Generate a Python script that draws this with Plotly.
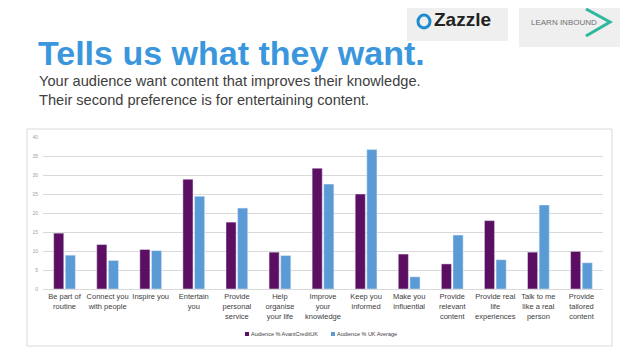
import plotly.graph_objects as go

categories = ["Be part of<br>routine", "Connect you<br>with people", "Inspire you", "Entertain<br>you",
              "Provide<br>personal<br>service", "Help<br>organise<br>your life", "Improve<br>your<br>knowledge",
              "Keep you<br>informed", "Make you<br>influential", "Provide<br>relevant<br>content",
              "Provide real<br>life<br>experiences", "Talk to me<br>like a real<br>person", "Provide<br>tailored<br>content"]
avant = [14.7, 11.7, 10.4, 28.9, 17.6, 9.7, 31.8, 25.0, 9.2, 6.6, 18.0, 9.7, 9.9]
uk_avg = [8.9, 7.5, 10.1, 24.4, 21.3, 8.8, 27.6, 36.7, 3.2, 14.2, 7.7, 22.1, 6.9]
series_names = ["Audience % AvantCreditUK", "Audience % UK Average"]
series_colors = ["#5C0F62", "#5B9BD5"]
y_ticks = [0, 5, 10, 15, 20, 25, 30, 35, 40]

# page body has an 8px margin: figure is placed at (8, 8)
OFF = 8
W, H = 638 - OFF, 359 - OFF
def px(x): return (x - OFF) / W
def py(y): return (H - (y - OFF)) / H

fig = go.Figure()
fig.add_trace(go.Bar(x=categories, y=avant, name=series_names[0], marker_color=series_colors[0]))
fig.add_trace(go.Bar(x=categories, y=uk_avg, name=series_names[1], marker_color=series_colors[1]))

fig.update_layout(
    width=W, height=H, margin=dict(l=0, r=0, t=0, b=0, autoexpand=False),
    paper_bgcolor="white", plot_bgcolor="white",
    barmode="group", bargap=0.46, bargroupgap=0.13,
    font=dict(family="Liberation Sans, Arial", color="#404040"),
    xaxis=dict(domain=[px(43), px(603)], tickfont=dict(size=7.5, color="#404040"), automargin=False,
               showline=True, linecolor="#D9D9D9", linewidth=1, ticks="", showgrid=False),
    yaxis=dict(domain=[py(289), py(137)], range=[0, 40], tickvals=y_ticks, automargin=False,
               tickfont=dict(size=5, color="#A0A0A0"), gridcolor="#D9D9D9", gridwidth=1,
               zeroline=False, showline=False, ticks="", ticklabelstandoff=4),
    showlegend=False,
)

shapes = [
    dict(type="rect", xref="paper", yref="paper", x0=px(27), x1=px(612), y0=py(346), y1=py(129),
         line=dict(color="#D9D9D9", width=1), fillcolor="rgba(0,0,0,0)", layer="below"),
    dict(type="rect", xref="paper", yref="paper", x0=px(407), x1=px(508), y0=py(41), y1=py(8),
         line=dict(width=0), fillcolor="#EFEFEF", layer="below"),
    dict(type="rect", xref="paper", yref="paper", x0=px(519), x1=px(620), y0=py(47), y1=py(8),
         line=dict(width=0), fillcolor="#EFEFEF", layer="below"),
    dict(type="circle", xref="paper", yref="paper", x0=px(418), x1=px(430), y0=py(28), y1=py(15),
         line=dict(color="#1E8BD0", width=3), fillcolor="rgba(0,0,0,0)"),
    dict(type="path", xref="paper", yref="paper",
         path=f"M {px(586)},{py(9)} L {px(610)},{py(22)} L {px(586)},{py(36)}",
         line=dict(color="#2DB8A0", width=3)),
    # legend swatches
    dict(type="rect", xref="paper", yref="paper", x0=px(245), x1=px(249), y0=py(336), y1=py(332),
         line=dict(width=0), fillcolor=series_colors[0]),
    dict(type="rect", xref="paper", yref="paper", x0=px(331), x1=px(335), y0=py(336), y1=py(332),
         line=dict(width=0), fillcolor=series_colors[1]),
]

annotations = [
    dict(text="<b>Tells us what they want.</b>", x=px(36), y=py(53), xref="paper", yref="paper",
         xanchor="left", yanchor="middle", showarrow=False,
         font=dict(family="Liberation Sans", size=34, color="#3A96DD")),
    dict(text="Your audience want content that improves their knowledge.", x=px(37), y=py(81),
         xref="paper", yref="paper", xanchor="left", yanchor="middle", showarrow=False,
         font=dict(family="Liberation Sans", size=14.6, color="#404040")),
    dict(text="Their second preference is for entertaining content.", x=px(37), y=py(100),
         xref="paper", yref="paper", xanchor="left", yanchor="middle", showarrow=False,
         font=dict(family="Liberation Sans", size=14.6, color="#404040")),
    dict(text="<b>Zazzle</b>", x=px(432), y=py(19), xref="paper", yref="paper",
         xanchor="left", yanchor="middle", showarrow=False,
         font=dict(family="Liberation Sans", size=19, color="#222222")),
    dict(text="LEARN INBOUND", x=px(529), y=py(23), xref="paper", yref="paper",
         xanchor="left", yanchor="middle", showarrow=False,
         font=dict(family="Liberation Sans", size=8, color="#707070")),
    dict(text=series_names[0], x=px(249), y=py(334), xref="paper", yref="paper",
         xanchor="left", yanchor="middle", showarrow=False,
         font=dict(family="Liberation Sans", size=5.5, color="#404040")),
    dict(text=series_names[1], x=px(335), y=py(334), xref="paper", yref="paper",
         xanchor="left", yanchor="middle", showarrow=False,
         font=dict(family="Liberation Sans", size=5.5, color="#404040")),
]

fig.update_layout(shapes=shapes, annotations=annotations)
fig.write_html("out.html")
